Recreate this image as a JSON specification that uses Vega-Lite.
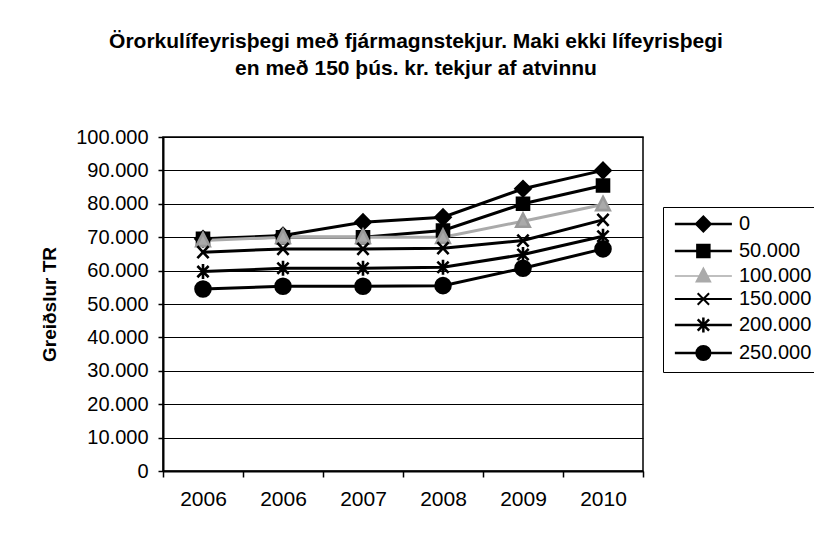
{
  "$schema": "https://vega.github.io/schema/vega-lite/v6.json",
  "autosize": "none",
  "width": 480,
  "height": 334,
  "padding": {"left": 163, "top": 137, "right": 171, "bottom": 64},
  "background": "white",
  "title": {
    "text": ["Örorkulífeyrisþegi með fjármagnstekjur. Maki ekki lífeyrisþegi", "en með 150 þús. kr. tekjur af atvinnu"],
    "font": "Liberation Sans",
    "fontSize": 21,
    "fontWeight": "bold",
    "color": "black",
    "lineHeight": 27,
    "anchor": "middle",
    "dx": 13,
    "offset": 48
  },
  "data": {
    "values": [
      {"i": 0, "year": "2006", "series": "0", "value": 69500},
      {"i": 1, "year": "2006", "series": "0", "value": 70500},
      {"i": 2, "year": "2007", "series": "0", "value": 74500},
      {"i": 3, "year": "2008", "series": "0", "value": 76000},
      {"i": 4, "year": "2009", "series": "0", "value": 84500},
      {"i": 5, "year": "2010", "series": "0", "value": 90000},
      {"i": 0, "year": "2006", "series": "50.000", "value": 69500},
      {"i": 1, "year": "2006", "series": "50.000", "value": 70000},
      {"i": 2, "year": "2007", "series": "50.000", "value": 70000},
      {"i": 3, "year": "2008", "series": "50.000", "value": 72000},
      {"i": 4, "year": "2009", "series": "50.000", "value": 80000},
      {"i": 5, "year": "2010", "series": "50.000", "value": 85500},
      {"i": 0, "year": "2006", "series": "100.000", "value": 69000},
      {"i": 1, "year": "2006", "series": "100.000", "value": 70000},
      {"i": 2, "year": "2007", "series": "100.000", "value": 70000},
      {"i": 3, "year": "2008", "series": "100.000", "value": 70000},
      {"i": 4, "year": "2009", "series": "100.000", "value": 74800},
      {"i": 5, "year": "2010", "series": "100.000", "value": 79800},
      {"i": 0, "year": "2006", "series": "150.000", "value": 65500},
      {"i": 1, "year": "2006", "series": "150.000", "value": 66500},
      {"i": 2, "year": "2007", "series": "150.000", "value": 66500},
      {"i": 3, "year": "2008", "series": "150.000", "value": 66700},
      {"i": 4, "year": "2009", "series": "150.000", "value": 69000},
      {"i": 5, "year": "2010", "series": "150.000", "value": 75200},
      {"i": 0, "year": "2006", "series": "200.000", "value": 59700},
      {"i": 1, "year": "2006", "series": "200.000", "value": 60700},
      {"i": 2, "year": "2007", "series": "200.000", "value": 60700},
      {"i": 3, "year": "2008", "series": "200.000", "value": 61000},
      {"i": 4, "year": "2009", "series": "200.000", "value": 64800},
      {"i": 5, "year": "2010", "series": "200.000", "value": 70300},
      {"i": 0, "year": "2006", "series": "250.000", "value": 54500},
      {"i": 1, "year": "2006", "series": "250.000", "value": 55300},
      {"i": 2, "year": "2007", "series": "250.000", "value": 55300},
      {"i": 3, "year": "2008", "series": "250.000", "value": 55500},
      {"i": 4, "year": "2009", "series": "250.000", "value": 60700},
      {"i": 5, "year": "2010", "series": "250.000", "value": 66500}
    ]
  },
  "encoding": {
    "x": {
      "field": "i",
      "type": "ordinal",
      "bandPosition": 0.5,
      "scale": {"type": "band", "paddingInner": 0, "paddingOuter": 0},
      "axis": {
        "title": null,
        "labelAngle": 0,
        "labelExpr": "['2006','2006','2007','2008','2009','2010'][datum.value]",
        "tickBand": "extent",
        "tickSize": 6,
        "tickColor": "black",
        "tickWidth": 1.5,
        "domainColor": "black",
        "domainWidth": 2,
        "labelPadding": 11,
        "labelFontSize": 21,
        "labelFont": "Liberation Sans",
        "labelColor": "black",
        "grid": false
      }
    },
    "y": {
      "field": "value",
      "type": "quantitative",
      "scale": {"domain": [0, 100000], "nice": false},
      "axis": {
        "title": "Greiðslur TR",
        "titleFont": "Liberation Sans",
        "titleFontSize": 19,
        "titleFontWeight": "bold",
        "titleColor": "black",
        "titlePadding": 16,
        "values": [0, 10000, 20000, 30000, 40000, 50000, 60000, 70000, 80000, 90000, 100000],
        "labelExpr": "replace(format(datum.value, ','), ',', '.')",
        "labelFontSize": 20,
        "labelFont": "Liberation Sans",
        "labelColor": "black",
        "labelPadding": 10,
        "tickSize": 5,
        "tickColor": "black",
        "tickWidth": 1.5,
        "domainColor": "black",
        "domainWidth": 2,
        "grid": true,
        "gridColor": "black",
        "gridWidth": 1.2
      }
    }
  },
  "layer": [
    {
      "mark": {"type": "line", "strokeCap": "butt"},
      "encoding": {
        "color": {
          "field": "series",
          "type": "nominal",
          "scale": {
            "domain": ["0", "50.000", "100.000", "150.000", "200.000", "250.000"],
            "range": ["black", "black", "#aaaaaa", "black", "black", "black"]
          },
          "legend": {
            "title": null,
            "orient": "none",
            "legendX": 500,
            "legendY": 70,
            "strokeColor": "black",
            "fillColor": "white",
            "padding": 7,
            "labelFont": "Liberation Sans",
            "labelFontSize": 20,
            "labelColor": "black",
            "labelOffset": 49,
            "rowPadding": 3,
            "symbolSize": 3249,
            "symbolStrokeWidth": 2.5,
            "encode": {
              "symbols": {
                "update": {
                  "shape": {"signal": "datum.value === '0' ? 'M-0.18,0L1.82,0M0.57,0L0.82,-0.25L1.07,0L0.82,0.25Z' : datum.value === '50.000' ? 'M-0.18,0L1.82,0M0.61,-0.21L1.03,-0.21L1.03,0.21L0.61,0.21Z' : datum.value === '100.000' ? 'M-0.18,0L1.82,0M0.82,-0.28L1.07,0.2L0.57,0.2Z' : datum.value === '150.000' ? 'M-0.18,0L1.82,0M0.62,-0.2L1.02,0.2M0.62,0.2L1.02,-0.2' : datum.value === '200.000' ? 'M-0.18,0L1.82,0M0.62,-0.2L1.02,0.2M0.62,0.2L1.02,-0.2M0.82,-0.26L0.82,0.26' : 'M-0.18,0L1.82,0M1.06,0A0.24,0.24 0 1,1 0.58,0A0.24,0.24 0 1,1 1.06,0Z'"},
                  "fill": {"signal": "datum.value === '100.000' ? '#aaaaaa' : 'black'"},
                  "stroke": {"signal": "datum.value === '100.000' ? '#aaaaaa' : 'black'"},
                  "strokeWidth": {"signal": "datum.value === '100.000' ? 1.5 : datum.value === '150.000' ? 2 : 2.5"},
                  "opacity": {"value": 1}
                }
              }
            }
          }
        },
        "strokeWidth": {
          "field": "series",
          "type": "nominal",
          "scale": {
            "domain": ["50.000", "0", "100.000", "150.000", "200.000", "250.000"],
            "range": [3, 3, 1.5, 2, 3, 3]
          },
          "legend": null
        }
      }
    },
    {
      "mark": {"type": "point", "filled": true, "size": 225, "opacity": 1, "strokeWidth": 2.6},
      "encoding": {
        "color": {"field": "series", "type": "nominal", "legend": null},
        "stroke": {
          "field": "series",
          "type": "nominal",
          "scale": {
            "domain": ["100.000", "0", "50.000", "150.000", "200.000", "250.000"],
            "range": ["#999999", "black", "black", "black", "black", "black"]
          },
          "legend": null
        },
        "shape": {
          "field": "series",
          "type": "nominal",
          "scale": {
            "domain": ["250.000", "200.000", "150.000", "100.000", "50.000", "0"],
            "range": [
              "M1,0A1,1 0 1,1 -1,0A1,1 0 1,1 1,0Z",
              "M-0.75,-0.75L0.75,0.75M-0.75,0.75L0.75,-0.75M0,-1L0,1",
              "M-0.75,-0.8L0.75,0.8M-0.75,0.8L0.75,-0.8",
              "M0,-1L0.9,0.75L-0.9,0.75Z",
              "M-0.8,-0.8L0.8,-0.8L0.8,0.8L-0.8,0.8Z",
              "M-1,0L0,-1L1,0L0,1Z"
            ]
          },
          "legend": null
        }
      }
    }
  ],
  "config": {
    "view": {"stroke": "black", "strokeWidth": 1.5},
    "font": "Liberation Sans"
  }
}
